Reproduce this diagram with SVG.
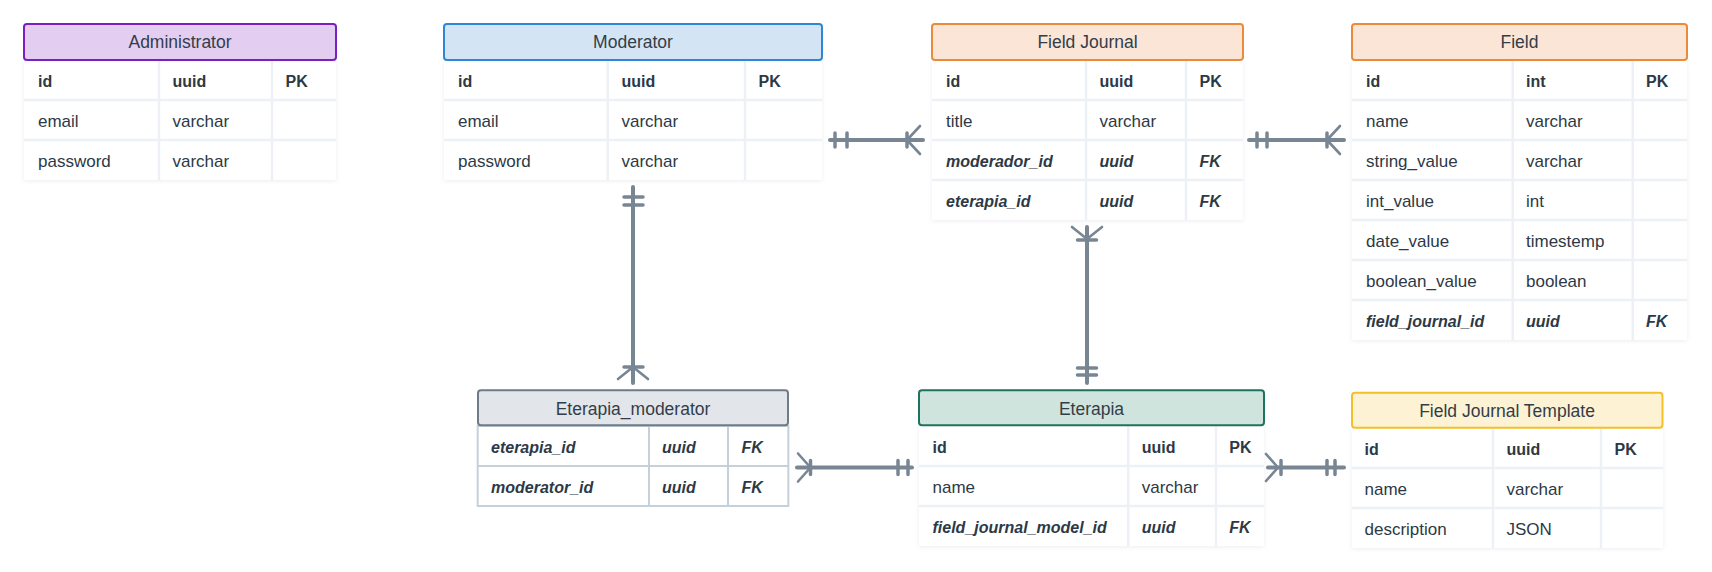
<svg xmlns="http://www.w3.org/2000/svg" width="1712" height="572" viewBox="0 0 1712 572">
<defs>
<filter id="sh" x="-5%" y="-5%" width="110%" height="115%">
<feDropShadow dx="0" dy="1" stdDeviation="2" flood-color="#1b2a3a" flood-opacity="0.07"/>
</filter>
<style>
text{font-family:"Liberation Sans",Arial,sans-serif;fill:#2d3946}
.h{font-size:17.5px;text-anchor:middle;fill:#333d49}
.r{font-size:17px}
.b{font-size:16px;font-weight:700}
.bi{font-size:16px;font-weight:700;font-style:italic}
.body{fill:#ffffff;filter:url(#sh)}
.sep{stroke:#edf1f5;stroke-width:2.5;fill:none}
.bsep{stroke:#c6d0db;stroke-width:2;fill:none}
.conn path{stroke:#788694;fill:none;stroke-linecap:round;stroke-linejoin:round}
.conn .ln{stroke-width:4}
.conn .tk{stroke-width:3.5}
.conn .cf{stroke-width:2.6}
</style>
</defs>
<rect width="1712" height="572" fill="#ffffff"/>

<g id="administrator">
<rect class="body" x="24" y="61" width="312" height="119"/>
<path class="sep" d="M24 100H336M24 140H336M159 61V180M272 61V180"/>
<rect x="24" y="24" width="312" height="36" rx="3" fill="#e3cef2" stroke="#7a1fc2" stroke-width="2"/>
<text class="h" x="180" y="48">Administrator</text>
<text class="b" x="38" y="86.5">id</text><text class="b" x="172.5" y="86.5">uuid</text><text class="b" x="285.5" y="86.5">PK</text>
<text class="r" x="38" y="126.5">email</text><text class="r" x="172.5" y="126.5">varchar</text>
<text class="r" x="38" y="166.5">password</text><text class="r" x="172.5" y="166.5">varchar</text>
</g>

<g id="moderator">
<rect class="body" x="444" y="61" width="378" height="119"/>
<path class="sep" d="M444 100H822M444 140H822M607.7 61V180M745 61V180"/>
<rect x="444" y="24" width="378" height="36" rx="3" fill="#d3e5f5" stroke="#2e86d5" stroke-width="2"/>
<text class="h" x="633" y="48">Moderator</text>
<text class="b" x="458" y="86.5">id</text><text class="b" x="621.5" y="86.5">uuid</text><text class="b" x="758.5" y="86.5">PK</text>
<text class="r" x="458" y="126.5">email</text><text class="r" x="621.5" y="126.5">varchar</text>
<text class="r" x="458" y="166.5">password</text><text class="r" x="621.5" y="166.5">varchar</text>
</g>

<g id="field-journal">
<rect class="body" x="932" y="61" width="311" height="159"/>
<path class="sep" d="M932 100H1243M932 140H1243M932 180H1243M1086 61V220M1186 61V220"/>
<rect x="932" y="24" width="311" height="36" rx="3" fill="#fbe5d6" stroke="#ea8a3b" stroke-width="2"/>
<text class="h" x="1087.5" y="48">Field Journal</text>
<text class="b" x="946" y="86.5">id</text><text class="b" x="1099.5" y="86.5">uuid</text><text class="b" x="1199.5" y="86.5">PK</text>
<text class="r" x="946" y="126.5">title</text><text class="r" x="1099.5" y="126.5">varchar</text>
<text class="bi" x="946" y="166.5">moderador_id</text><text class="bi" x="1099.5" y="166.5">uuid</text><text class="bi" x="1199.5" y="166.5">FK</text>
<text class="bi" x="946" y="206.5">eterapia_id</text><text class="bi" x="1099.5" y="206.5">uuid</text><text class="bi" x="1199.5" y="206.5">FK</text>
</g>

<g id="field">
<rect class="body" x="1352" y="61" width="335" height="279"/>
<path class="sep" d="M1352 100H1687M1352 140H1687M1352 180H1687M1352 220H1687M1352 260H1687M1352 300H1687M1512.7 61V340M1632.7 61V340"/>
<rect x="1352" y="24" width="335" height="36" rx="3" fill="#fbe5d6" stroke="#ea8a3b" stroke-width="2"/>
<text class="h" x="1519.5" y="48">Field</text>
<text class="b" x="1366" y="86.5">id</text><text class="b" x="1526" y="86.5">int</text><text class="b" x="1646" y="86.5">PK</text>
<text class="r" x="1366" y="126.5">name</text><text class="r" x="1526" y="126.5">varchar</text>
<text class="r" x="1366" y="166.5">string_value</text><text class="r" x="1526" y="166.5">varchar</text>
<text class="r" x="1366" y="206.5">int_value</text><text class="r" x="1526" y="206.5">int</text>
<text class="r" x="1366" y="246.5">date_value</text><text class="r" x="1526" y="246.5">timestemp</text>
<text class="r" x="1366" y="286.5">boolean_value</text><text class="r" x="1526" y="286.5">boolean</text>
<text class="bi" x="1366" y="326.5">field_journal_id</text><text class="bi" x="1526" y="326.5">uuid</text><text class="bi" x="1646" y="326.5">FK</text>
</g>

<g id="eterapia-moderator">
<rect x="477.7" y="426" width="310.6" height="80" fill="#ffffff" stroke="#c6d0db" stroke-width="2"/>
<path class="bsep" d="M477.7 466H788.3M649 426V506M728 426V506"/>
<rect x="478" y="390.3" width="310" height="35" rx="3" fill="#e2e6ea" stroke="#6f7b88" stroke-width="2"/>
<text class="h" x="633" y="415">Eterapia_moderator</text>
<text class="bi" x="491" y="452.5">eterapia_id</text><text class="bi" x="662" y="452.5">uuid</text><text class="bi" x="741.5" y="452.5">FK</text>
<text class="bi" x="491" y="492.5">moderator_id</text><text class="bi" x="662" y="492.5">uuid</text><text class="bi" x="741.5" y="492.5">FK</text>
</g>

<g id="eterapia">
<rect class="body" x="919" y="426.3" width="345" height="119.7"/>
<path class="sep" d="M919 466H1264M919 506H1264M1128.3 426.3V546M1216 426.3V546"/>
<rect x="919" y="390.3" width="345" height="35" rx="3" fill="#d0e4de" stroke="#1f735d" stroke-width="2"/>
<text class="h" x="1091.5" y="415">Eterapia</text>
<text class="b" x="932.5" y="452.5">id</text><text class="b" x="1141.7" y="452.5">uuid</text><text class="b" x="1229.3" y="452.5">PK</text>
<text class="r" x="932.5" y="492.5">name</text><text class="r" x="1141.7" y="492.5">varchar</text>
<text class="bi" x="932.5" y="532.5">field_journal_model_id</text><text class="bi" x="1141.7" y="532.5">uuid</text><text class="bi" x="1229.3" y="532.5">FK</text>
</g>

<g id="field-journal-template">
<rect class="body" x="1352" y="428.7" width="311" height="119.3"/>
<path class="sep" d="M1352 468H1663M1352 508H1663M1493 428.7V548M1601 428.7V548"/>
<rect x="1352" y="392.7" width="310.5" height="35" rx="3" fill="#fdf2d3" stroke="#f4c028" stroke-width="2"/>
<text class="h" x="1507" y="416.5">Field Journal Template</text>
<text class="b" x="1364.5" y="454.5">id</text><text class="b" x="1506.5" y="454.5">uuid</text><text class="b" x="1614.5" y="454.5">PK</text>
<text class="r" x="1364.5" y="494.5">name</text><text class="r" x="1506.5" y="494.5">varchar</text>
<text class="r" x="1364.5" y="534.5">description</text><text class="r" x="1506.5" y="534.5">JSON</text>
</g>

<g id="connectors" class="conn">
<g id="c-moderator-fieldjournal">
<path class="ln" d="M830 140H923"/>
<path class="tk" d="M835 133V147M847 133V147M907 133V147"/>
<path class="cf" d="M920 126L907 140L920 154"/>
</g>
<g id="c-fieldjournal-field">
<path class="ln" d="M1249 140H1344"/>
<path class="tk" d="M1257 133V147M1267 133V147M1327 133V147"/>
<path class="cf" d="M1340 126L1327 140L1340 154"/>
</g>
<g id="c-moderator-eterapiamoderator">
<path class="ln" d="M633 187V383"/>
<path class="tk" d="M624 197H643M624 205H643M624 367H643"/>
<path class="cf" d="M618 379L633 367L648 379"/>
</g>
<g id="c-fieldjournal-eterapia">
<path class="ln" d="M1087 227V383"/>
<path class="tk" d="M1077.5 240H1096.5M1077.5 368H1096.5M1077.5 375H1096.5"/>
<path class="cf" d="M1072 227L1087 239L1102 227"/>
</g>
<g id="c-eterapiamoderator-eterapia">
<path class="ln" d="M797 467.5H912"/>
<path class="tk" d="M810.5 460.5V474.5M898 460.5V474.5M908 460.5V474.5"/>
<path class="cf" d="M798 453.5L810.5 467.5L798 481.5"/>
</g>
<g id="c-eterapia-fjt">
<path class="ln" d="M1268 467.5H1344"/>
<path class="tk" d="M1281 460.5V474.5M1327 460.5V474.5M1335 460.5V474.5"/>
<path class="cf" d="M1266 454L1278 467.5L1266 481"/>
</g>
</g>
</svg>
